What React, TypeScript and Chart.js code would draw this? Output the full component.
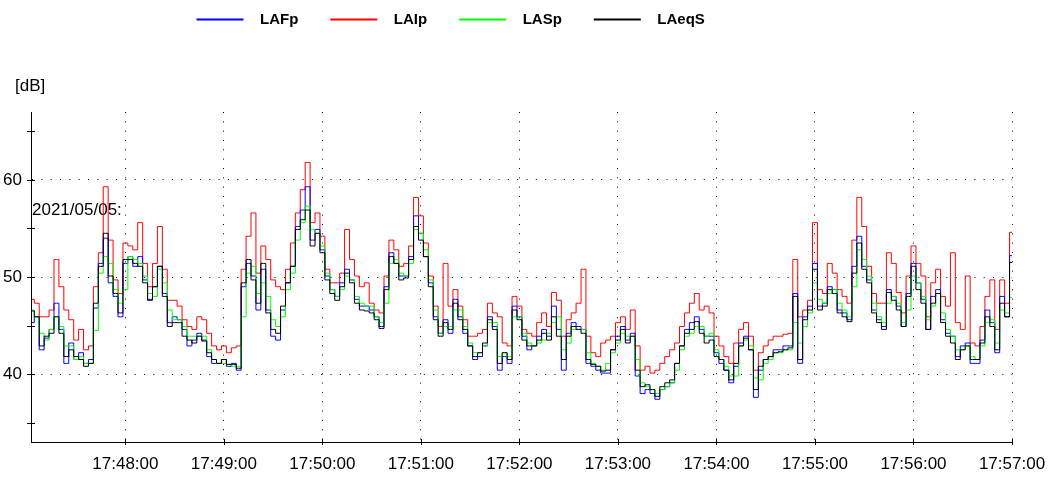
import React, { useEffect, useRef } from 'react';
import { Chart, registerables } from 'chart.js';

Chart.register(...registerables);

// time axis: seconds after 17:47:00
const sampleStartSec = 3;
const sampleStepSec = 3;
const xMinSec = 2.5;
const xMaxSec = 600;

const seriesNames = ['LAFp', 'LAIp', 'LASp', 'LAeqS'];
const seriesColors = ['#0000ff', '#ff0000', '#00ff00', '#000000'];
const drawOrder = [2, 3, 1, 0];

const laFp = [
  45.3, 45.9, 42.5, 43.7, 44.6, 47.3, 44.6, 41.1, 43.2, 41.5, 42.2, 41.1, 41.5, 46.8, 51.4, 54.0, 49.4, 48.0, 45.9, 51.4,
  52.1, 51.1, 52.1, 49.7, 47.7, 49.0, 51.1, 48.3, 45.3, 45.9, 45.6, 44.6, 42.9, 43.5, 44.2,
  43.5, 41.8, 41.1, 41.1, 41.5, 40.8, 41.1, 40.4, 49.0, 51.4, 50.1, 46.6, 50.8, 46.6, 43.9, 43.5, 46.6, 49.4, 51.1, 55.2,
  56.9, 59.3, 53.8, 54.9, 52.8, 50.1, 48.7, 48.0, 49.4, 50.8, 49.7, 47.7, 47.0, 47.0,
  46.6, 45.9, 44.9, 49.0, 52.5, 51.4, 50.1, 50.1, 52.1, 56.3, 54.5, 52.1, 49.4, 45.9, 44.2, 45.6, 44.2, 47.7, 45.9, 44.2,
  42.9, 41.5, 41.8, 42.9, 45.9, 44.9, 40.4, 41.8, 41.1, 47.0, 45.9, 43.9, 42.5, 42.9, 43.9,
  44.6, 43.9, 47.0, 44.6, 40.4, 44.2, 45.3, 44.9, 44.6, 41.1, 40.8, 40.4, 40.1, 40.1, 42.5, 43.9, 44.9, 43.5, 44.2, 39.8,
  38.0, 38.4, 38.0, 37.4, 38.4, 38.7, 39.1, 41.1, 42.9, 44.6, 45.3, 45.9, 44.6, 43.9,
  43.9, 42.2, 41.1, 40.4, 39.1, 40.8, 43.2, 43.9, 42.5, 37.6, 40.4, 41.5, 41.8, 42.5, 42.5, 42.9, 42.9, 48.3, 41.1, 45.9,
  47.0, 51.4, 47.0, 47.3, 49.0, 48.7, 46.6, 46.3, 45.6, 51.1, 54.2, 51.1, 49.7, 46.6, 45.6,
  44.9, 48.7, 48.0, 47.0, 44.9, 48.3, 51.4, 49.4, 47.7, 44.6, 48.0, 48.7, 45.6, 44.2, 43.9, 41.8, 42.9, 43.2, 41.1, 41.1,
  43.5, 46.6, 45.3, 42.2, 48.0, 45.9, 52.2,
];

const laIp = [
  47.7, 47.3, 45.9, 45.9, 46.6, 51.8, 49.0, 46.6, 45.6, 43.5, 44.6, 42.5, 42.9, 49.0, 52.5, 59.3, 53.8, 49.7, 48.3, 53.5,
  53.2, 52.8, 55.6, 51.4, 49.0, 51.4, 55.2, 50.8, 47.6, 47.6, 47.0, 45.6, 44.9, 44.6, 45.9,
  45.6, 44.2, 42.9, 42.5, 42.9, 42.2, 42.7, 42.9, 50.8, 54.2, 56.6, 50.4, 53.2, 51.8, 49.7, 49.0, 48.7, 50.8, 53.5, 56.6,
  59.0, 61.8, 55.6, 56.6, 54.2, 50.8, 49.4, 49.4, 50.4, 54.9, 51.8, 50.1, 49.0, 49.4,
  47.3, 46.6, 46.3, 50.1, 53.8, 52.8, 51.1, 51.4, 53.2, 58.2, 56.3, 53.5, 50.1, 47.0, 44.9, 51.4, 47.0, 48.7, 47.0, 45.6,
  43.9, 43.9, 44.2, 44.6, 47.3, 46.3, 45.9, 43.2, 42.9, 48.0, 47.0, 44.6, 44.2, 43.9, 45.3,
  46.3, 44.9, 48.4, 47.6, 43.9, 45.6, 46.3, 47.3, 50.8, 43.9, 42.2, 41.8, 43.2, 43.5, 43.9, 45.3, 45.9, 44.6, 46.6, 42.9,
  40.4, 40.8, 40.1, 40.4, 41.1, 41.8, 42.5, 43.2, 44.9, 46.3, 47.3, 48.3, 46.6, 47.0,
  46.3, 43.9, 42.9, 41.8, 41.1, 43.2, 44.6, 45.3, 43.9, 40.4, 42.2, 42.9, 43.5, 43.9, 43.9, 44.1, 44.2, 51.8, 45.9, 46.6,
  47.6, 55.6, 48.7, 48.3, 51.4, 50.4, 48.7, 48.0, 47.3, 53.8, 58.2, 55.2, 51.1, 48.3, 47.3,
  47.3, 52.5, 51.4, 48.4, 46.3, 50.1, 53.2, 51.4, 50.1, 45.9, 49.4, 50.8, 48.0, 47.0, 52.5, 45.3, 44.6, 50.1, 43.2, 42.9,
  44.9, 48.0, 49.7, 44.6, 49.7, 47.3, 54.6,
];

const laSp = [
  46.6, 45.9, 44.2, 43.5, 44.6, 45.9, 44.9, 42.9, 42.9, 41.5, 41.8, 41.1, 41.1, 44.5, 50.4, 52.1, 51.4, 48.7, 47.3, 48.7,
  52.1, 51.8, 51.4, 50.1, 48.3, 48.0, 50.8, 49.4, 46.6, 45.6, 45.6, 44.9, 43.9, 43.9, 43.9,
  43.9, 42.5, 41.5, 41.1, 41.1, 41.0, 40.8, 40.8, 45.9, 50.4, 51.1, 48.3, 49.4, 48.0, 45.6, 44.9, 45.9, 48.7, 50.4, 53.8,
  55.6, 57.3, 54.9, 54.5, 53.2, 50.4, 48.7, 48.0, 48.7, 50.1, 49.7, 48.0, 47.3, 47.0,
  47.0, 45.9, 45.3, 47.3, 51.4, 51.8, 50.4, 50.1, 51.4, 54.9, 54.5, 52.8, 49.7, 46.6, 44.2, 44.9, 44.9, 46.6, 46.6, 44.9,
  43.2, 42.2, 42.2, 42.9, 45.3, 45.3, 41.8, 42.2, 41.8, 45.9, 45.9, 44.2, 43.2, 42.9, 43.2,
  43.5, 44.2, 45.3, 45.9, 42.5, 43.2, 44.6, 44.6, 44.6, 42.2, 41.1, 40.8, 40.4, 41.1, 42.2, 43.2, 44.2, 43.9, 43.9, 41.5,
  39.1, 38.7, 38.4, 38.0, 38.4, 38.7, 39.1, 40.4, 42.5, 43.9, 44.2, 44.9, 44.9, 43.9,
  44.2, 42.5, 41.5, 40.8, 39.8, 39.8, 42.9, 43.5, 42.9, 39.6, 39.4, 41.1, 41.5, 42.2, 42.2, 42.5, 42.5, 45.3, 43.2, 44.9,
  46.3, 49.4, 47.7, 47.3, 48.3, 48.7, 47.3, 46.6, 45.9, 49.0, 52.8, 51.8, 50.1, 47.3, 45.9,
  45.3, 47.3, 48.0, 47.3, 45.3, 46.6, 50.1, 49.4, 48.0, 45.6, 47.0, 48.3, 46.3, 44.6, 43.9, 42.5, 42.5, 42.9, 41.8, 41.5,
  42.9, 45.3, 45.6, 43.2, 46.6, 46.3, 47.9,
];

const laeqS = [
  46.5, 45.9, 42.9, 43.9, 44.2, 45.9, 44.2, 41.8, 42.5, 41.8, 41.5, 40.8, 41.1, 47.3, 51.1, 54.5, 50.1, 48.3, 46.3, 51.8,
  51.8, 51.4, 51.1, 49.4, 47.6, 49.0, 51.1, 48.0, 44.9, 45.3, 45.3, 43.9, 43.5, 43.2, 43.9,
  43.4, 42.2, 41.5, 41.1, 41.5, 41.0, 41.0, 40.6, 49.4, 51.8, 49.7, 47.3, 51.4, 46.3, 44.6, 44.2, 47.0, 49.4, 51.1, 54.9,
  55.9, 56.9, 53.2, 54.5, 52.5, 49.7, 48.3, 47.6, 49.0, 50.4, 49.4, 47.3, 46.6, 46.5,
  46.3, 45.6, 44.7, 48.7, 52.1, 51.4, 49.7, 49.9, 51.8, 55.2, 53.8, 52.1, 49.0, 45.6, 43.9, 45.3, 44.6, 47.3, 45.6, 44.6,
  42.9, 41.8, 42.2, 43.2, 45.6, 44.6, 41.1, 42.2, 41.5, 46.6, 45.6, 43.5, 42.9, 42.9, 43.5,
  44.2, 43.5, 45.9, 43.9, 41.5, 43.9, 44.9, 44.6, 44.2, 41.5, 41.0, 40.8, 40.3, 40.4, 42.5, 43.5, 44.6, 43.2, 43.9, 40.4,
  38.7, 38.9, 38.4, 37.7, 38.7, 39.1, 39.4, 41.1, 42.9, 44.2, 44.6, 45.4, 44.2, 43.2,
  43.5, 41.8, 41.5, 40.4, 39.4, 41.1, 42.9, 43.7, 42.5, 38.4, 40.8, 41.5, 41.8, 42.2, 42.3, 42.5, 42.7, 48.0, 41.5, 45.6,
  46.6, 50.8, 46.6, 47.0, 48.7, 48.3, 46.3, 45.9, 45.4, 50.4, 53.5, 50.8, 49.4, 46.3, 45.3,
  44.6, 48.4, 47.6, 46.6, 44.9, 48.0, 51.1, 48.7, 47.3, 44.6, 47.3, 48.3, 45.3, 43.9, 43.2, 41.5, 42.5, 42.9, 41.5, 41.5,
  43.2, 45.9, 44.9, 42.5, 47.3, 45.9, 51.5,
];

const seriesData = [laFp, laIp, laSp, laeqS];

const xTickSeconds = [60, 120, 180, 240, 300, 360, 420, 480, 540, 600];
const xTickLabels = ['17:48:00', '17:49:00', '17:50:00', '17:51:00', '17:52:00', '17:53:00', '17:54:00', '17:55:00', '17:56:00', '17:57:00'];
const yTickValues = [35, 40, 45, 50, 55, 60, 65];
const yLabelValues = [40, 50, 60];
const yMin = 33;
const yMax = 67;
const unitLabel = '[dB]';
const dateLabel = '2021/05/05:';

const FONT = '"Liberation Sans", Arial, sans-serif';

const decorPlugin = {
  id: 'decor',
  beforeDatasetsDraw(chart: any) {
    const { ctx, chartArea } = chart;
    ctx.save();
    ctx.fillStyle = '#000';
    ctx.font = `17px ${FONT}`;
    ctx.textBaseline = 'middle';
    ctx.textAlign = 'left';
    ctx.fillText(dateLabel, chartArea.left + 1, 210);
    ctx.restore();
  },
  afterDraw(chart: any) {
    const { ctx, chartArea, scales } = chart;
    const xs = scales.x;
    const ys = scales.y;
    ctx.save();
    ctx.strokeStyle = '#000';
    ctx.lineWidth = 1;
    yTickValues.forEach((v) => {
      const py = Math.round(ys.getPixelForValue(v)) + 0.5;
      ctx.beginPath();
      ctx.moveTo(chartArea.left - 4, py);
      ctx.lineTo(chartArea.left + 4, py);
      ctx.stroke();
    });
    xTickSeconds.forEach((v) => {
      const px = Math.round(xs.getPixelForValue(v)) + 0.5;
      ctx.beginPath();
      ctx.moveTo(px, chartArea.bottom - 3);
      ctx.lineTo(px, chartArea.bottom + 3);
      ctx.stroke();
    });
    ctx.fillStyle = '#000';
    ctx.font = `17px ${FONT}`;
    ctx.textBaseline = 'middle';
    ctx.textAlign = 'left';
    ctx.fillText(unitLabel, 15, 86);

    // legend
    let lx = 196.5;
    const ly = 19.5;
    ctx.font = `bold 15px ${FONT}`;
    seriesNames.forEach((name, k) => {
      ctx.strokeStyle = seriesColors[k];
      ctx.lineWidth = 2;
      ctx.beginPath();
      ctx.moveTo(lx, ly);
      ctx.lineTo(lx + 47, ly);
      ctx.stroke();
      const tx = lx + 63.5;
      ctx.fillStyle = '#000';
      ctx.fillText(name, tx, ly);
      lx = tx + ctx.measureText(name).width + 32;
    });
    ctx.restore();
  },
};

export default function App() {
  const canvasRef = useRef<HTMLCanvasElement | null>(null);

  useEffect(() => {
    const canvas = canvasRef.current;
    if (!canvas) return;
    const datasets = seriesNames.map((name, k) => ({
      label: name,
      data: seriesData[k].map((v, i) => ({ x: sampleStartSec + i * sampleStepSec, y: v })),
      borderColor: seriesColors[k],
      backgroundColor: seriesColors[k],
      borderWidth: 1,
      pointRadius: 0,
      stepped: 'middle',
      fill: false,
      order: drawOrder[k],
    }));
    const gridDash = [1, 8.33];
    const chart = new Chart(canvas, {
      type: 'line',
      data: { datasets },
      plugins: [decorPlugin],
      options: {
        animation: false,
        responsive: false,
        maintainAspectRatio: false,
        events: [],
        layout: { padding: { left: 0, right: 38, top: 112, bottom: 0 } },
        plugins: { legend: { display: false }, tooltip: { enabled: false } },
        scales: {
          x: {
            type: 'linear',
            min: xMinSec,
            max: xMaxSec,
            afterBuildTicks: (s: any) => {
              s.ticks = xTickSeconds.map((v) => ({ value: v }));
            },
            afterFit: (s: any) => {
              s.height = 36;
              s.paddingLeft = 0;
              s.paddingRight = 0;
            },
            ticks: {
              autoSkip: false,
              maxRotation: 0,
              padding: 12,
              color: '#000',
              font: { family: FONT, size: 17 },
              callback: (v: any) => {
                const i = xTickSeconds.indexOf(Number(v));
                return i >= 0 ? xTickLabels[i] : '';
              },
            },
            grid: { color: '#000', lineWidth: 1, drawTicks: false },
            border: { display: true, color: '#000', width: 1, dash: gridDash },
          },
          y: {
            type: 'linear',
            min: yMin,
            max: yMax,
            afterBuildTicks: (s: any) => {
              s.ticks = yTickValues.map((v) => ({ value: v }));
            },
            afterFit: (s: any) => {
              s.width = 31;
              s.paddingTop = 0;
              s.paddingBottom = 0;
            },
            ticks: {
              autoSkip: false,
              padding: 9,
              color: '#000',
              font: { family: FONT, size: 17 },
              callback: (v: any) => (yLabelValues.includes(Number(v)) ? String(v) : ''),
            },
            grid: {
              color: (c: any) => (c.tick && yLabelValues.includes(c.tick.value) ? '#000' : 'rgba(0,0,0,0)'),
              lineWidth: 1,
              drawTicks: false,
            },
            border: { display: true, color: '#000', width: 1, dash: gridDash },
          },
        },
      },
    } as any);
    return () => chart.destroy();
  }, []);

  return (
    <div style={{ position: 'fixed', left: 0, top: 0, width: 1050, height: 478, background: '#fff' }}>
      <canvas ref={canvasRef} width={1050} height={478} style={{ display: 'block', width: 1050, height: 478 }} />
    </div>
  );
}
